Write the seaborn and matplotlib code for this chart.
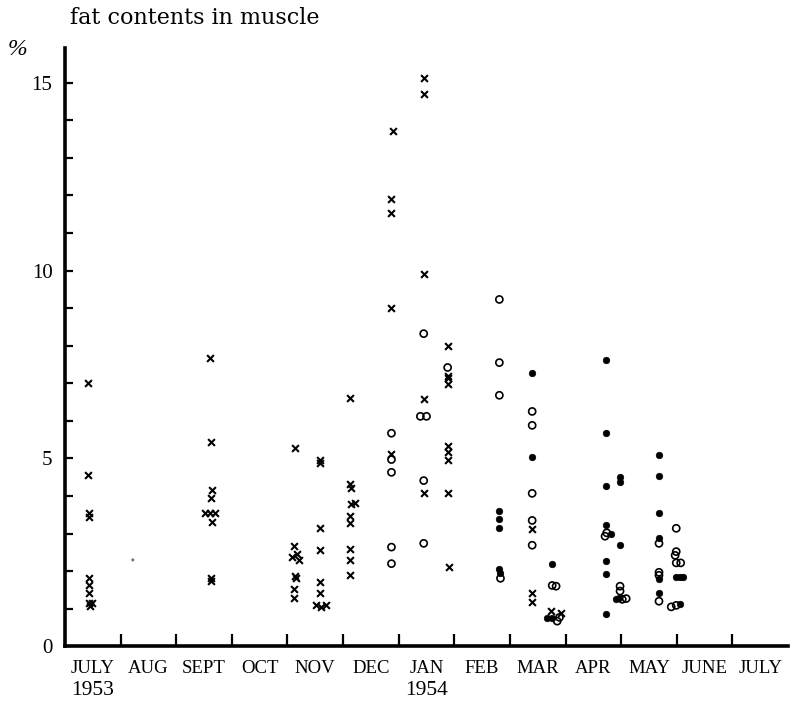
import matplotlib
matplotlib.use("Agg")
import matplotlib.pyplot as plt
import seaborn as sns
import pandas as pd

# Month axis: x is measured in months after 1 July 1953
month_labels = ["JULY", "AUG", "SEPT", "OCT", "NOV", "DEC", "JAN",
                "FEB", "MAR", "APR", "MAY", "JUNE", "JULY"]
year_labels = ["1953", "1954"]
year_month = [0, 6]
y_ticks = list(range(16))
y_tick_labels = ["0" if v == 0 else (str(v) if v % 5 == 0 else "") for v in y_ticks]

# Samples marked with crosses
cross_month = [0.41, 0.41, 0.43, 0.43, 0.43, 0.43, 0.43, 0.43, 0.49, 0.45,
               2.60, 2.62, 2.64, 2.62, 2.51, 2.60, 2.69, 2.64, 2.63, 2.62,
               4.13, 4.12, 4.08, 4.17, 4.20, 4.14, 4.16, 4.12, 4.11,
               4.58, 4.59, 4.58, 4.58, 4.58, 4.58, 4.52, 4.61, 4.69,
               5.12, 5.12, 5.14, 5.14, 5.21, 5.12, 5.12, 5.12, 5.12, 5.12,
               5.89, 5.87, 5.87, 5.87, 5.87,
               6.45, 6.45, 6.45, 6.45, 6.45,
               6.88, 6.88, 6.88, 6.88, 6.88, 6.88, 6.88, 6.88, 6.90,
               8.40, 8.40, 8.40, 8.74, 8.92]
cross_pct = [7.00, 4.57, 3.56, 3.43, 1.83, 1.62, 1.41, 1.14, 1.16, 1.07,
             7.66, 5.43, 4.15, 3.94, 3.56, 3.56, 3.56, 3.30, 1.83, 1.75,
             5.27, 2.66, 2.37, 2.45, 2.30, 1.87, 1.82, 1.52, 1.28,
             4.95, 4.88, 3.14, 2.55, 1.70, 1.41, 1.10, 1.05, 1.10,
             6.62, 4.33, 4.20, 3.78, 3.82, 3.48, 3.27, 2.58, 2.29, 1.89,
             13.72, 11.89, 11.54, 8.99, 5.13,
             15.13, 14.70, 9.92, 6.57, 4.07,
             7.98, 7.20, 7.15, 6.97, 5.32, 5.16, 4.95, 4.07, 2.10,
             3.11, 1.41, 1.17, 0.93, 0.88]

# Samples marked with open circles
ring_month = [5.87, 5.87, 5.87, 5.87, 5.87,
              6.45, 6.39, 6.50, 6.45, 6.45,
              6.88,
              7.81, 7.81, 7.81, 7.83,
              8.40, 8.40, 8.40, 8.40, 8.40,
              8.76, 8.83, 8.85, 8.89,
              9.71, 9.74,
              9.98, 9.98, 10.02, 10.09,
              10.68, 10.68, 10.68, 10.68,
              10.99, 10.99, 10.97, 10.99, 11.07, 10.90, 10.99]
ring_pct = [5.67, 4.97, 4.63, 2.64, 2.20,
            8.32, 6.12, 6.12, 4.41, 2.74,
            7.42,
            9.23, 7.55, 6.68, 1.81,
            6.25, 5.88, 4.07, 3.35, 2.69,
            1.62, 1.60, 0.67, 0.77,
            2.93, 3.02,
            1.60, 1.47, 1.25, 1.27,
            2.74, 1.97, 1.89, 1.20,
            3.14, 2.52, 2.42, 2.22, 2.22, 1.05, 1.09]

# Samples marked with filled dots
dot_month = [7.81, 7.81, 7.81, 7.81, 7.83,
             8.40, 8.40, 8.76, 8.67, 8.76,
             9.73, 9.73, 9.73, 9.73, 9.82, 9.73, 9.73, 9.73,
             9.98, 9.98, 9.98, 9.91, 9.96,
             10.68, 10.68, 10.68, 10.68, 10.68, 10.68,
             10.99, 11.05, 11.11, 11.05]
dot_pct = [3.59, 3.38, 3.16, 2.05, 1.94,
           7.26, 5.05, 2.18, 0.75, 0.75,
           7.63, 5.67, 4.26, 3.22, 3.00, 2.26, 1.92, 0.85,
           4.50, 4.36, 2.69, 1.25, 1.28,
           5.08, 4.52, 3.56, 2.87, 1.78, 1.41,
           1.84, 1.84, 1.84, 1.12]

# Faint single August mark
faint_month = [1.22]
faint_pct = [2.30]

sns.set_theme(style="white")
plt.rcParams["font.family"] = ["Liberation Serif", "DejaVu Serif"]
plt.rcParams["text.color"] = "black"
plt.rcParams["xtick.color"] = "black"
plt.rcParams["ytick.color"] = "black"
plt.rcParams["xtick.labelcolor"] = "black"
plt.rcParams["ytick.labelcolor"] = "black"

fig = plt.figure(figsize=(7.92, 7.01), dpi=100)
ax = fig.add_axes([0.082, 0.078, 0.913, 0.854])

crosses = pd.DataFrame({"month": cross_month, "pct": cross_pct})
rings = pd.DataFrame({"month": ring_month, "pct": ring_pct})
dots = pd.DataFrame({"month": dot_month, "pct": dot_pct})
faint = pd.DataFrame({"month": faint_month, "pct": faint_pct})

sns.scatterplot(data=crosses, x="month", y="pct", ax=ax, marker="x",
                color="black", s=24, linewidth=1.5, zorder=3)
sns.scatterplot(data=rings, x="month", y="pct", ax=ax, marker="o",
                facecolors="none", edgecolors="black", s=26, linewidth=1.2,
                zorder=3)
sns.scatterplot(data=dots, x="month", y="pct", ax=ax, marker="o",
                color="black", edgecolor="black", s=22, linewidth=0.5,
                zorder=3)
sns.scatterplot(data=faint, x="month", y="pct", ax=ax, marker="o",
                color="#777777", edgecolor="none", s=5, zorder=3)

ax.set_xlim(0, 13.0)
ax.set_ylim(0, 15.93)

for side in ("top", "right"):
    ax.spines[side].set_visible(False)
for side in ("left", "bottom"):
    ax.spines[side].set_color("black")
    ax.spines[side].set_linewidth(2.6)

# y axis: inward ticks at every percent, labels every 5
ax.set_yticks(y_ticks, labels=y_tick_labels)
ax.tick_params(axis="y", which="major", direction="in", length=6, width=1.6,
               color="black", labelcolor="black", pad=9, labelsize=15,
               left=True)

# x axis: month boundaries as ticks, month names centred between them
ax.set_xticks(list(range(1, 13)), labels=[""] * 12)
ax.tick_params(axis="x", which="major", direction="in", length=9, width=1.6,
               color="black", bottom=True)
ax.set_xticks([m + 0.5 for m in range(len(month_labels))],
              labels=month_labels, minor=True)
ax.tick_params(axis="x", which="minor", length=0, pad=10, labelsize=13.5,
               labelcolor="black")
ax.set_xlabel("")
ax.set_ylabel("")

trans = ax.get_xaxis_transform()
for lab, m in zip(year_labels, year_month):
    ax.text(m + 0.5, -0.058, lab, transform=trans, ha="center", va="top",
            fontsize=15.5, color="black")

fig.text(0.088, 0.99, "fat contents in muscle", ha="left", va="top",
         fontsize=16, family=["DejaVu Serif"], color="black")
fig.text(0.010, 0.945, "%", ha="left", va="top", fontsize=17, style="italic",
         color="black")

fig.savefig("out.png", dpi=100, facecolor="white")
